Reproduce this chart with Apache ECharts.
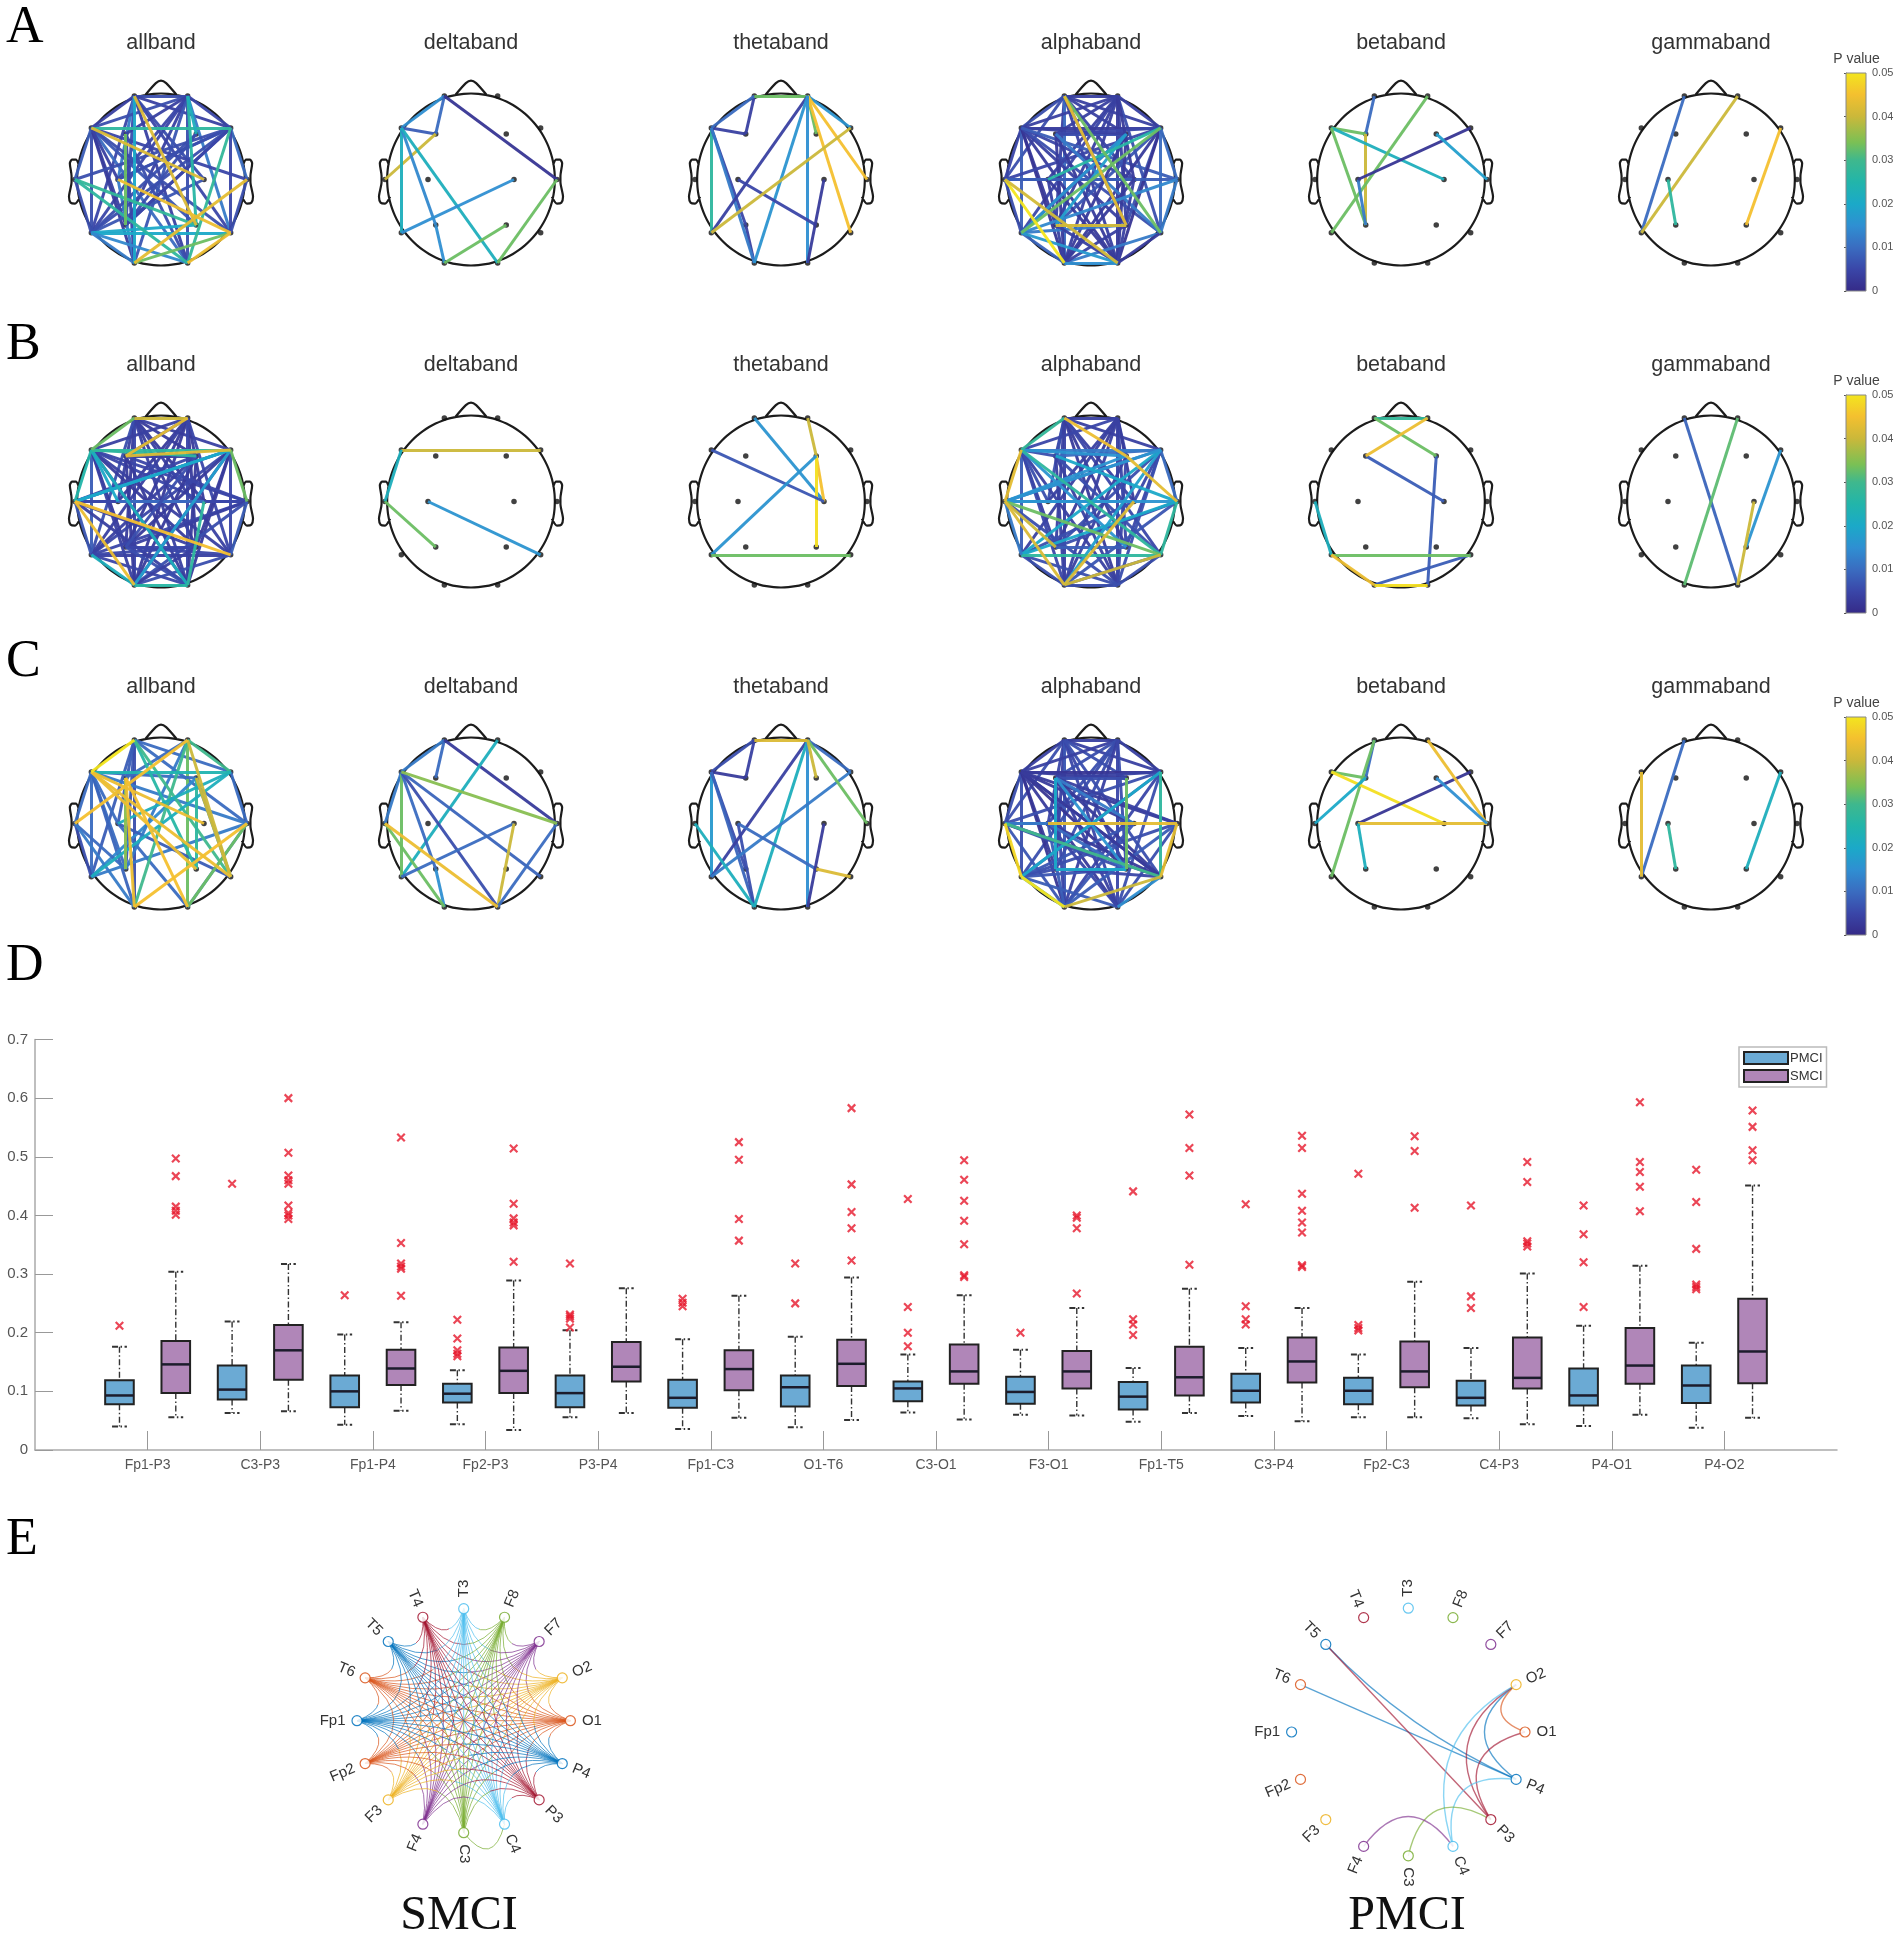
<!DOCTYPE html>
<html><head><meta charset="utf-8">
<style>html,body{margin:0;padding:0;background:#fff}#c{width:1902px;height:1941px}</style>
<script src="https://cdn.jsdelivr.net/npm/echarts@6/dist/echarts.min.js"></script>
</head><body><div id="c"></div>
<script>
// ---------- DATA ----------
const bandNames = ['allband','deltaband','thetaband','alphaband','betaband','gammaband'];
const rowLetters = ['A','B','C'];
const electrodes = {Fp1:[-.31,.97],Fp2:[.31,.97],F7:[-.81,.6],F8:[.81,.6],F3:[-.41,.53],F4:[.41,.53],
  T3:[-1,0],T4:[1,0],C3:[-.5,0],C4:[.5,0],T5:[-.81,-.62],T6:[.81,-.62],P3:[-.41,-.53],P4:[.41,-.53],O1:[-.31,-.97],O2:[.31,-.97]};

const A_all = ['Fp1-F7:.004','Fp1-Fp2:.006','Fp1-F8:.004','Fp1-T5:.005','Fp1-P3:.006','Fp1-O2:.004','Fp1-C3:.012','Fp1-C4:.006','Fp1-T6:.005','Fp2-F7:.006','Fp2-F8:.005','Fp2-T5:.005','Fp2-T6:.012','Fp2-P3:.004','Fp2-O1:.007','Fp2-O2:.006','Fp2-C3:.005','Fp2-F3:.004','F7-T5:.006','F7-P3:.004','F7-O1:.003','F7-O2:.01','F7-P4:.007','F7-T6:.006','F7-T3:.008','F7-C3:.004','F8-T5:.006','F8-C3:.008','F8-T4:.01','F8-T6:.005','F8-P3:.005','T3-T5:.006','T3-F8:.006','T4-T6:.006','T4-F7:.005','T5-O1:.012','T5-C4:.007','C3-O1:.012','C3-F8:.006','F3-O2:.006','F3-O1:.005','F4-P3:.006','F4-T5:.006','P3-F8:.005','Fp1-O1:.02','Fp2-P4:.026','T5-T6:.02','T5-P4:.02','T5-O2:.014','T3-P4:.028','T3-O2:.027','F7-F8:.027','F8-O2:.028','Fp2-F4:.022','O1-T6:.033','F3-P3:.033','Fp1-P4:.042','F7-C4:.042','C3-T6:.044','T4-O1:.043','O2-T6:.044'];
const A_delta = ['Fp1-F7:.015','Fp1-F3:.01','F7-F3:.008','Fp1-T4:.002','F3-T3:.04','F7-T5:.022','F7-P3:.014','P3-O1:.015','F7-O2:.022','T5-C4:.015','O1-P4:.033','O2-T4:.033'];
const A_theta = ['F7-F3:.004','Fp1-F3:.004','Fp1-F7:.01','F7-T5:.027','F7-P3:.005','P3-O1:.004','F7-O1:.012','Fp1-Fp2:.033','Fp2-F4:.033','Fp2-F8:.016','Fp2-T4:.045','Fp2-T6:.045','Fp2-T5:.004','Fp2-O1:.016','Fp2-O2:.015','C3-P4:.005','C4-O2:.003','F8-T5:.04'];
const A_alpha = ['Fp1-Fp2:.004','Fp1-F7:.006','Fp1-F8:.004','Fp1-F4:.004','Fp1-T3:.006','Fp1-P3:.004','Fp1-P4:.005','Fp1-O1:.01','Fp1-O2:.004','Fp1-C4:.005','Fp2-F7:.004','Fp2-F8:.004','Fp2-F3:.004','Fp2-T5:.005','Fp2-C3:.004','Fp2-P3:.004','Fp2-P4:.004','Fp2-O1:.004','Fp2-O2:.003','Fp2-T6:.006','F7-F8:.003','F3-F4:.006','F7-F4:.004','F3-F8:.005','F7-T3:.005','F7-T5:.008','F7-P3:.003','F7-P4:.004','F7-O1:.002','F7-O2:.003','F7-T6:.006','F7-C4:.005','F7-T4:.008','F8-T3:.005','F8-T4:.01','F8-P3:.007','F8-P4:.006','F8-O1:.003','F8-O2:.002','F8-T6:.01','F3-O1:.003','F3-O2:.003','F3-T6:.012','F4-O1:.003','F4-O2:.003','F4-T5:.005','T3-T4:.008','T3-T5:.006','T3-C4:.008','C3-O1:.004','C3-O2:.003','C4-O1:.003','C4-O2:.004','T4-T5:.014','T4-T6:.012','T5-O1:.009','T5-P4:.012','T6-O1:.012','T5-F4:.016','P3-O2:.004','P4-O1:.004','T6-O2:.003','Fp2-C4:.003','O1-O2:.015','T5-O2:.017','F4-P3:.018','F8-C3:.026','Fp1-T6:.033','T5-F8:.033','Fp1-P4:.043','T3-O1:.05','T3-O2:.041','P3-P4:.041'];
const A_beta = ['Fp1-F3:.01','F7-F3:.033','F3-P3:.04','F7-C4:.022','F7-P3:.033','Fp2-T5:.033','C3-P3:.012','F8-C3:.002','F4-T4:.018'];
const A_gamma = ['Fp1-T5:.01','Fp2-T5:.04','F8-P4:.045','C3-P3:.027'];

const B_all = ['Fp1-F8:.004','Fp1-F4:.003','Fp1-C3:.004','Fp1-C4:.003','Fp1-P3:.003','Fp1-P4:.003','Fp1-O1:.005','Fp1-O2:.004','Fp1-T5:.006','Fp1-T6:.004','Fp2-F7:.004','Fp2-F3:.004','Fp2-C3:.003','Fp2-C4:.003','Fp2-P3:.003','Fp2-P4:.003','Fp2-O1:.003','Fp2-O2:.005','Fp2-T5:.004','Fp2-T6:.005','F7-T5:.008','F7-P3:.003','F7-P4:.003','F7-O1:.004','F7-O2:.003','F7-T6:.004','F7-C4:.005','F7-T4:.005','F8-T3:.005','F8-T5:.005','F8-P3:.003','F8-P4:.003','F8-O1:.004','F8-O2:.003','F8-T6:.005','F3-F4:.004','F3-O1:.003','F3-O2:.003','F4-O1:.003','F4-O2:.003','F4-T5:.004','T3-T4:.008','T3-T5:.007','T3-C4:.005','T3-F4:.005','T3-P4:.004','T3-O2:.004','T4-T5:.005','T4-C3:.005','T4-F3:.005','T4-P3:.004','T4-O1:.006','T4-T6:.008','T5-T6:.004','T5-P4:.005','T5-O2:.005','T6-P3:.005','T6-O1:.006','P3-P4:.005','C3-C4:.01','O2-P3:.006','O1-P4:.004','F4-P3:.006','F7-C3:.02','T5-O1:.022','F8-T3:.018','F8-O1:.018','T3-F8:.02','F7-O2:.022','O1-O2:.026','F7-F4:.027','F7-F8:.027','C4-O2:.027','Fp1-F7:.033','F7-T3:.025','F8-T4:.033','Fp1-Fp2:.04','F3-F8:.042','Fp2-F3:.043','T3-O1:.044','T3-T6:.045'];
const B_delta = ['F7-F8:.04','F7-T3:.022','T3-P3:.033','C3-T6:.016'];
const B_theta = ['Fp1-C4:.016','Fp2-F4:.04','F4-C4:.045','F4-P4:.049','F7-C4:.007','F4-T5:.016','T5-T6:.033'];
const B_alpha = ['Fp1-Fp2:.004','Fp1-F8:.004','Fp1-F3:.005','Fp1-C3:.006','Fp1-C4:.004','Fp1-P3:.004','Fp1-P4:.003','Fp1-O1:.004','Fp1-O2:.003','Fp1-T6:.005','Fp2-F7:.005','Fp2-F4:.005','Fp2-C3:.004','Fp2-C4:.003','Fp2-P3:.003','Fp2-P4:.005','Fp2-O1:.004','Fp2-O2:.004','Fp2-T5:.004','F7-F3:.006','F7-T5:.008','F7-P3:.004','F7-O1:.005','F7-O2:.004','F7-C3:.006','F8-C4:.005','F8-P4:.005','F8-O2:.006','F8-P3:.006','F3-O1:.004','F3-O2:.004','F3-T6:.006','F4-O1:.004','F4-O2:.005','T3-O2:.006','T3-F8:.01','T4-P3:.006','T4-O1:.007','T5-O1:.006','T5-O2:.006','T5-C4:.006','T6-O1:.005','T6-O2:.006','O1-O2:.006','P3-P4:.008','F3-F8:.01','F7-F8:.012','F8-T4:.01','T3-T4:.016','T3-C4:.016','F7-P4:.016','F7-F4:.016','T3-F4:.016','T4-T5:.02','F8-T5:.02','F8-O1:.018','F8-T3:.016','T5-T6:.027','F7-T6:.027','T4-T6:.027','T3-T5:.012','T4-F3:.02','Fp1-F7:.028','T3-T6:.033','O1-C4:.042','O1-T6:.04','T3-P3:.04','F4-T4:.043','Fp1-F4:.044','T3-F7:.043','T3-O1:.042'];
const B_beta = ['F3-C4:.008','F4-O2:.008','O1-T6:.008','T3-T5:.022','Fp1-Fp2:.028','Fp1-F4:.033','T5-T6:.033','Fp2-F3:.044','T5-O1:.044','O1-O2:.049'];
const B_gamma = ['Fp1-O2:.009','Fp2-O1:.032','F8-P4:.016','C4-O2:.04'];

const C_all = ['Fp1-F8:.01','Fp1-T5:.008','Fp1-T4:.01','Fp1-P3:.007','Fp1-O1:.006','Fp1-C3:.008','Fp2-F3:.01','Fp2-O2:.033','Fp2-F8:.03','F7-F4:.01','F7-T5:.01','F7-P3:.01','F7-O1:.009','F7-T4:.012','F7-C3:.01','F7-T3:.01','F8-T4:.01','F4-T5:.014','T3-T5:.006','T3-P3:.01','T3-O1:.012','T4-O2:.012','C3-O2:.01','T5-T4:.012','T6-F4:.014','C3-T6:.008','Fp2-P3:.012','Fp1-P4:.026','Fp1-T6:.03','F4-P4:.027','Fp2-O1:.03','F8-C3:.022','F8-T5:.022','F7-F8:.024','T4-O2:.033','F3-P3:.035','Fp2-T6:.04','F4-T6:.04','Fp2-T3:.045','F7-C4:.044','F7-P4:.044','F7-T6:.044','F3-O1:.044','O1-T4:.045','Fp1-F7:.05','F3-O2:.045'];
const C_delta = ['Fp1-F7:.012','Fp1-F3:.01','Fp1-T4:.003','Fp2-T5:.022','F7-T3:.012','F7-T5:.033','F7-P3:.01','P3-O1:.015','F7-O2:.006','F7-T6:.009','T3-O1:.033','T5-C4:.01','C4-O2:.04','T4-O2:.01','F7-T4:.035','T3-O2:.044'];
const C_theta = ['Fp1-F7:.006','Fp1-F3:.004','F7-F3:.003','F7-T5:.017','F7-P3:.006','F7-O1:.009','C3-O1:.006','Fp2-T5:.004','Fp2-F8:.01','Fp2-O1:.022','Fp2-O2:.015','F8-T5:.012','T3-O1:.022','C3-P4:.01','C4-O2:.003','Fp2-T4:.033','Fp1-Fp2:.042','Fp2-F4:.04','P4-T6:.042'];
const C_alpha = ['Fp1-Fp2:.004','Fp1-F7:.004','Fp1-F8:.004','Fp1-F4:.006','Fp1-T3:.006','Fp1-C3:.005','Fp1-P3:.004','Fp1-P4:.005','Fp1-O1:.007','Fp1-O2:.005','Fp1-T6:.006','Fp2-F7:.004','Fp2-F8:.004','Fp2-F3:.006','Fp2-T5:.006','Fp2-C3:.006','Fp2-P3:.006','Fp2-P4:.006','Fp2-O1:.004','Fp2-O2:.005','F7-F8:.002','F7-F4:.003','F3-F8:.004','F3-F4:.006','F7-T3:.006','F7-T5:.006','F7-P3:.003','F7-P4:.002','F7-O1:.002','F7-O2:.003','F7-T6:.002','F7-C4:.003','F7-T4:.003','F8-T3:.006','F8-T5:.006','F8-O1:.005','F8-O2:.006','F3-O1:.005','F3-O2:.004','F3-T6:.003','F3-T4:.004','T3-T6:.003','T3-C4:.006','T3-P4:.006','T3-O1:.007','T3-C3:.012','T4-T5:.006','T4-O2:.006','T5-C4:.007','T5-O2:.008','T5-P3:.006','T5-P4:.007','C3-O1:.008','C3-O2:.005','C3-T6:.003','C4-O1:.007','P3-T6:.005','T6-O2:.015','F3-C4:.012','T4-O1:.008','C3-P4:.01','T5-O1:.015','F7-T6:.003','F3-P4:.016','P3-P4:.02','T5-F8:.02','F3-P3:.02','F8-T6:.027','T3-T6:.03','F4-P4:.033','T6-O1:.04','C3-T4:.043','T4-T6:.043','T3-T5:.048','T5-O1:.05'];
const C_beta = ['Fp1-F3:.01','Fp1-T5:.033','F7-F3:.033','F7-C4:.049','T3-F3:.02','F8-C3:.002','C3-T4:.043','C3-P3:.022','Fp2-T4:.044','F4-T4:.015'];
const C_gamma = ['Fp1-T5:.01','F7-T5:.043','F8-P4:.022','C3-P3:.027'];

const panelLinks = [
  [A_all,A_delta,A_theta,A_alpha,A_beta,A_gamma],
  [B_all,B_delta,B_theta,B_alpha,B_beta,B_gamma],
  [C_all,C_delta,C_theta,C_alpha,C_beta,C_gamma]];

// parula-like colour scale of the P value bar
const pStops = [[0,'#352a87'],[.005,'#3a46a8'],[.01,'#3a6cc0'],[.015,'#2f8fd2'],[.02,'#1ba9c8'],[.025,'#22b5aa'],[.03,'#3fb88d'],[.034,'#7ac055'],[.04,'#cbb83a'],[.045,'#f4c02f'],[.05,'#f3e61e']];
const pTickInterval = .01;

// D: boxplot  [lower whisker, q1, median, q3, upper whisker]
const pairNames = ['Fp1-P3','C3-P3','Fp1-P4','Fp2-P3','P3-P4','Fp1-C3','O1-T6','C3-O1','F3-O1','Fp1-T5','C3-P4','Fp2-C3','C4-P3','P4-O1','P4-O2'];
const pmciBox = [[.040,.078,.093,.119,.176],[.063,.086,.103,.144,.219],[.043,.073,.100,.127,.197],[.044,.081,.096,.113,.136],[.056,.073,.097,.127,.204],[.036,.072,.089,.120,.189],[.039,.074,.107,.127,.193],[.064,.083,.105,.117,.163],[.060,.079,.099,.125,.171],[.048,.069,.091,.116,.140],[.058,.081,.101,.130,.174],[.056,.078,.101,.123,.163],[.054,.076,.089,.118,.174],[.041,.076,.093,.139,.212],[.038,.080,.110,.144,.183]];
const smciBox = [[.056,.097,.146,.186,.304],[.066,.120,.170,.213,.317],[.067,.111,.139,.171,.218],[.034,.097,.135,.175,.289],[.063,.117,.142,.184,.276],[.055,.102,.138,.170,.263],[.051,.109,.147,.188,.294],[.052,.113,.134,.180,.264],[.059,.105,.134,.169,.242],[.063,.093,.124,.176,.275],[.049,.115,.151,.192,.242],[.056,.107,.134,.185,.287],[.044,.105,.123,.192,.301],[.060,.113,.144,.208,.314],[.055,.114,.168,.258,.451]];
const pmciOutliers = [[.212],[.454],[.264],[.222,.190,.170,.164,.160],[.318,.231,.228,.224,.209],[.258,.251,.245],[.318,.250],[.428,.244,.200,.177],[.200],[.441,.223,.214,.196],[.419,.245,.223,.214],[.471,.213,.208,.204],[.417,.262,.242],[.417,.368,.320,.244],[.478,.423,.343,.282,.278,.274]];
const smciOutliers = [[.497,.467,.415,.408,.401],[.600,.507,.468,.460,.454,.417,.404,.400,.394],[.533,.353,.318,.313,.309,.263],[.514,.420,.395,.388,.383,.321],[],[.525,.495,.394,.357],[.583,.453,.406,.378,.323],[.494,.461,.425,.391,.351,.298,.295],[.400,.396,.378,.267],[.572,.515,.468,.316],[.536,.515,.437,.408,.388,.371,.315,.312],[.535,.510,.413],[.491,.457,.356,.352,.347],[.593,.491,.474,.449,.407],[.579,.551,.511,.494]];

// E: circular connectivity graphs (node order runs clockwise from the right)
const chordNodes = ['O1','P4','P3','C4','C3','F4','F3','Fp2','Fp1','T6','T5','T4','T3','F8','F7','O2'];
const chordColors = {O1:'#D95319',O2:'#EDB120',F7:'#7E2F8E',F8:'#77AC30',T3:'#4DBEEE',T4:'#A2142F',T5:'#0072BD',T6:'#D95319',Fp1:'#0072BD',Fp2:'#D95319',F3:'#EDB120',F4:'#7E2F8E',C3:'#77AC30',C4:'#4DBEEE',P3:'#A2142F',P4:'#0072BD'};
const smciLinks = {
 O1:'O2 F7 F8 T3 T4 T5 T6 Fp1 Fp2 F3 F4 C3 C4 P3 P4',
 O2:'F7 F8 T3 T4 T5 T6 Fp1 Fp2 F3 F4 C3 C4 P3 P4',
 F7:'F8 T3 T4 T5 T6 Fp1 Fp2 F3 F4 C3 C4 P3 P4',
 F8:'T3 T4 T5 T6 Fp1 Fp2 F3 F4 C3 C4 P3 P4',
 T3:'T4 T5 T6 Fp1 Fp2 F3 F4 C3 C4 P3 P4',
 T4:'T5 T6 Fp1 Fp2 F3 F4 C3 C4 P3 P4',
 T5:'T6 Fp1 Fp2 F3 F4 C3 C4 P3 P4',
 T6:'Fp1 Fp2 F3 F4 C3 C4 P3 P4',
 Fp1:'Fp2 F3 F4 C3 C4 P3 P4',
 Fp2:'F3 F4 C3 C4 P3 P4',
 F3:'C3 C4 P3 P4',
 F4:'C4 P3 P4',
 C3:'C4 P3 P4',
 C4:'P3 P4',
 P3:'P4'};
const pmciLinks = [['T5','P4','#0072BD'],['T6','P4','#0072BD'],['T5','P3','#A2142F'],['O2','P4','#0072BD'],['O2','O1','#D95319'],['O1','P3','#A2142F'],['O2','P3','#A2142F'],['O2','C4','#4DBEEE'],['P4','C4','#4DBEEE'],['C3','P3','#77AC30'],['F4','C4','#7E2F8E']];

// ---------- HELPERS ----------
function hexRgb(h){return [1,3,5].map(i=>parseInt(h.substr(i,2),16));}
function pColor(p){
  for(let i=1;i<pStops.length;i++){
    if(p<=pStops[i][0]){
      const [a,ca]=pStops[i-1],[b,cb]=pStops[i],t=(p-a)/(b-a),A=hexRgb(ca),B=hexRgb(cb);
      return 'rgb('+A.map((v,k)=>Math.round(v+(B[k]-v)*t)).join(',')+')';
    }
  }
  return pStops[pStops.length-1][1];
}
const circle=[];for(let a=0;a<=72;a++){const t=a/72*2*Math.PI;circle.push([.975*Math.cos(t),Math.sin(t)]);}
const nose=[[-.18,.985],[-.06,1.12],[0,1.15],[.06,1.12],[.18,.985]];
const earL=[[-.955,.17],[-.99,.23],[-1.035,.23],[-1.06,.19],[-1.04,.04],[-1.04,-.03],[-1.07,-.2],[-1.05,-.27],[-1.0,-.28],[-.94,-.2]];
const earR=earL.map(p=>[-p[0],p[1]]);
const outline=[].concat(circle,[[null,null]],nose,[[null,null]],earL,[[null,null]],earR);

// ---------- OPTION ----------
const grid=[],xAxis=[],yAxis=[],series=[],graphic=[];
const R=86,span=1.3,colX=[161,471,781,1091,1401,1711],rowY=[179.5,501.5,823.5];
function addGrid(g,x,y){const i=grid.length;grid.push(g);xAxis.push(Object.assign({gridIndex:i},x));yAxis.push(Object.assign({gridIndex:i},y));return i;}
function txt(text,x,y,font,fill,align,rotation){graphic.push({type:'text',x,y,rotation:rotation||0,z:10,style:{text,font,fill:fill||'#333',textAlign:align||'center',textVerticalAlign:'middle'}});}

panelLinks.forEach((row,ri)=>{
  txt(rowLetters[ri],6,[28,345,662][ri],'52px "Liberation Serif"','#000','left');
  row.forEach((links,ci)=>{
    const cx=colX[ci],cy=rowY[ri];
    txt(bandNames[ci],cx,cy-136.5,'21.5px "Liberation Sans"','#333');
    const g=addGrid({left:cx-R*span,top:cy-R*span,width:2*R*span,height:2*R*span},
      {type:'value',min:-span,max:span,show:false},{type:'value',min:-span,max:span,show:false});
    series.push({type:'line',xAxisIndex:g,yAxisIndex:g,data:outline,showSymbol:false,silent:true,smooth:.25,connectNulls:false,
      lineStyle:{color:'#1c1c1c',width:2.2},z:2,animation:false});
    series.push({type:'scatter',xAxisIndex:g,yAxisIndex:g,data:Object.values(electrodes),symbolSize:5.5,itemStyle:{color:'#111'},silent:true,z:3,animation:false});
    series.push({type:'lines',coordinateSystem:'cartesian2d',xAxisIndex:g,yAxisIndex:g,silent:true,z:4,animation:false,
      data:links.map(s=>{const [pair,p]=s.split(':'),[a,b]=pair.split('-');
        return {coords:[electrodes[a],electrodes[b]],lineStyle:{color:pColor(+p),width:3,opacity:.95}};})});
  });
  // colour bar
  const top=73+322*ri;
  const g=addGrid({left:1846,top,width:20,height:218},
    {type:'value',min:0,max:1,show:false},
    {type:'value',min:0,max:.05,interval:pTickInterval,position:'right',
      axisLine:{show:true,lineStyle:{color:'#777',width:1}},axisTick:{show:true,inside:true,length:2,lineStyle:{color:'#555'}},
      splitLine:{show:false},axisLabel:{fontSize:11,color:'#555',fontFamily:'Liberation Sans',margin:6,formatter:v=>String(+v.toFixed(2))}});
  series.push({type:'custom',xAxisIndex:g,yAxisIndex:g,silent:true,data:[[0,0,1,.05]],animation:false,z:2,
    renderItem:(params,api)=>{
      const a=api.coord([api.value(0),api.value(1)]),b=api.coord([api.value(2),api.value(3)]);
      return {type:'rect',shape:{x:a[0],y:b[1],width:b[0]-a[0],height:a[1]-b[1]},
        style:{stroke:'#888',lineWidth:1,fill:new echarts.graphic.LinearGradient(0,1,0,0,pStops.map(s=>({offset:s[0]/.05,color:s[1]})))}};
    }});
  txt('P value',1856.5,top-14,'14px "Liberation Sans"','#444');
});

// D boxplot
const bx=addGrid({left:35,top:1039.5,width:1802,height:410.5},
  {type:'value',min:0,max:16,splitLine:{show:false},
    axisLine:{lineStyle:{color:'#aaa',width:1.5}},
    axisTick:{show:true,inside:true,length:19,lineStyle:{color:'#999',width:1},customValues:pairNames.map((n,i)=>i+1)},
    axisLabel:{fontSize:14,color:'#555',fontFamily:'Liberation Sans',margin:8,customValues:pairNames.map((n,i)=>i+1),formatter:v=>pairNames[v-1]||''}},
  {type:'value',min:0,max:.7,interval:.1,splitLine:{show:false},
    axisLine:{show:true,lineStyle:{color:'#aaa',width:1.5}},
    axisTick:{show:true,inside:true,length:18,lineStyle:{color:'#999',width:1}},
    axisLabel:{fontSize:15,color:'#555',fontFamily:'Liberation Sans',margin:7,formatter:v=>String(+v.toFixed(1))}});
function boxSeries(name,rows,off,color){
  series.push({type:'custom',name,xAxisIndex:bx,yAxisIndex:bx,animation:false,z:3,
    itemStyle:{color,borderColor:'#222',borderWidth:2},
    encode:{x:0,y:[1,2,3,4,5]},
    data:rows.map((r,i)=>[i+1+off].concat(r)),
    renderItem:(params,api)=>{
      const x=api.value(0),hw=.127,cw=.066;
      const P=(dx,v)=>api.coord([x+dx,v]);
      const [lo,q1,med,q3,hi]=[1,2,3,4,5].map(d=>api.value(d));
      const dash={stroke:'#333',lineWidth:1.4,lineDash:[6,2.5,1.5,2.5],fill:null};
      const seg=(a,b,st)=>({type:'line',shape:{x1:a[0],y1:a[1],x2:b[0],y2:b[1]},style:st});
      const tl=P(-hw,q3),br=P(hw,q1);
      return {type:'group',children:[
        seg(P(0,hi),P(0,q3),dash),seg(P(0,q1),P(0,lo),dash),
        seg(P(-cw,hi),P(cw,hi),Object.assign({},dash,{lineWidth:2})),seg(P(-cw,lo),P(cw,lo),Object.assign({},dash,{lineWidth:2})),
        {type:'rect',shape:{x:tl[0],y:tl[1],width:br[0]-tl[0],height:br[1]-tl[1]},style:{fill:color,stroke:'#222',lineWidth:2}},
        seg(P(-hw,med),P(hw,med),{stroke:'#1c1c2c',lineWidth:2.5})
      ]};
    }});
}
boxSeries('PMCI',pmciBox,-.25,'#6BAAD4');
boxSeries('SMCI',smciBox,.25,'#B086B8');
function outlierSeries(name,rows,off){
  const data=[];rows.forEach((vals,i)=>vals.forEach(v=>data.push([i+1+off,v])));
  series.push({type:'scatter',name,xAxisIndex:bx,yAxisIndex:bx,data,symbol:'path://M0 0L10 10M10 0L0 10',symbolSize:7.5,animation:false,z:4,silent:true,
    itemStyle:{color:'none',borderColor:'#e6182c',borderWidth:2.2}});
}
outlierSeries('PMCI outliers',pmciOutliers,-.25);
outlierSeries('SMCI outliers',smciOutliers,.25);

// E graphs
function nodeAngle(n){return chordNodes.indexOf(n)/16*2*Math.PI;}
function nodeUnit(n){const t=nodeAngle(n);return [Math.cos(t),Math.sin(t)];}
// curvature (hyperbolic-style arc bending toward the ring centre); negative bend flips it outward
function edgeCurve(a,b,bend){
  const i=chordNodes.indexOf(a),j=chordNodes.indexOf(b);
  let d=Math.abs(i-j);d=Math.min(d,16-d);
  const phi=d*Math.PI/16/1, s=Math.sin(phi/1/1/1*1);
  const half=d*Math.PI/16; // half of the central angle between the nodes
  const sh=Math.sin(half),ch=Math.cos(half);
  let mag=ch/(1+sh);
  if(bend)mag=bend;
  const A=nodeUnit(a),B=nodeUnit(b);
  // perpendicular used by the library: (p2y-p1y, p1x-p2x); toward centre is -(mid)
  const nx=B[1]-A[1],ny=A[0]-B[0],mx=(A[0]+B[0])/2,my=(A[1]+B[1])/2;
  const toward=(nx*-mx+ny*-my)>=0?1:-1;
  return toward*mag;
}
function gradientEdge(a,b){
  const A=nodeUnit(a),B=nodeUnit(b);
  const ax=A[0]<=B[0]?0:1,ay=A[1]<=B[1]?0:1;
  return new echarts.graphic.LinearGradient(ax,ay,1-ax,1-ay,[{offset:0,color:chordColors[a]},{offset:.5,color:chordColors[a]},{offset:.5,color:chordColors[b]},{offset:1,color:chordColors[b]}]);
}
const smciEdges=[];
Object.keys(smciLinks).forEach(a=>smciLinks[a].split(' ').forEach(b=>{
  const out=(a==='C3'&&b==='C4');
  smciEdges.push({source:a,target:b,lineStyle:{color:out?chordColors.C3:gradientEdge(a,b),curveness:out?-edgeCurve(a,b,1):edgeCurve(a,b),width:1,opacity:.7}});
}));
const pmciEdges=pmciLinks.map(([a,b,c])=>({source:a,target:b,lineStyle:{color:c,curveness:edgeCurve(a,b),width:1.4,opacity:.65}}));
function chord(name,cx,cy,rx,ry,edges){
  series.push({type:'graph',name,layout:'none',left:cx-rx,top:cy-ry,width:2*rx,height:2*ry,
    animation:false,silent:true,roam:false,symbol:'circle',symbolSize:10,z:5,
    data:chordNodes.map(n=>{const u=nodeUnit(n);return {name:n,x:rx*u[0],y:ry*u[1],itemStyle:{color:'#fff',borderColor:chordColors[n],borderWidth:1.2,opacity:.85}};}),
    edges,label:{show:false},lineStyle:{opacity:.6,width:1}});
  chordNodes.forEach(n=>{
    const t=nodeAngle(n),u=nodeUnit(n),left=u[0]<-1e-6;
    const rot=left?-(t-Math.PI):-(t>Math.PI?t-2*Math.PI:t);
    txt(n,cx+(rx+11.5)*u[0],cy+(ry+11.5)*u[1],'15px "Liberation Sans"','#333',left?'right':'left',rot);
  });
}
chord('SMCI',463.7,1720.7,106.7,112,smciEdges);
chord('PMCI',1408.3,1732,116.7,123.8,pmciEdges);

txt('D',6,966,'52px "Liberation Serif"','#000','left');
txt('E',6,1540,'52px "Liberation Serif"','#000','left');
txt('SMCI',459,1916,'48px "Liberation Serif"','#111');
txt('PMCI',1407,1916,'48px "Liberation Serif"','#111');

const chart=echarts.init(document.getElementById('c'),null,{renderer:'canvas',width:1902,height:1941});
chart.setOption({backgroundColor:'#fff',animation:false,grid,xAxis,yAxis,series,graphic,
  legend:{data:[{name:'PMCI',icon:'rect'},{name:'SMCI',icon:'rect'}],orient:'vertical',left:1739,top:1047,itemWidth:44,itemHeight:12,itemGap:4,padding:[4,4,4,4],
    borderColor:'#bbb',borderWidth:1.5,itemStyle:{borderColor:'#222',borderWidth:2},
    textStyle:{fontSize:13,color:'#333',fontFamily:'Liberation Sans',padding:[0,0,0,-3]},selectedMode:false}});
</script></body></html>
